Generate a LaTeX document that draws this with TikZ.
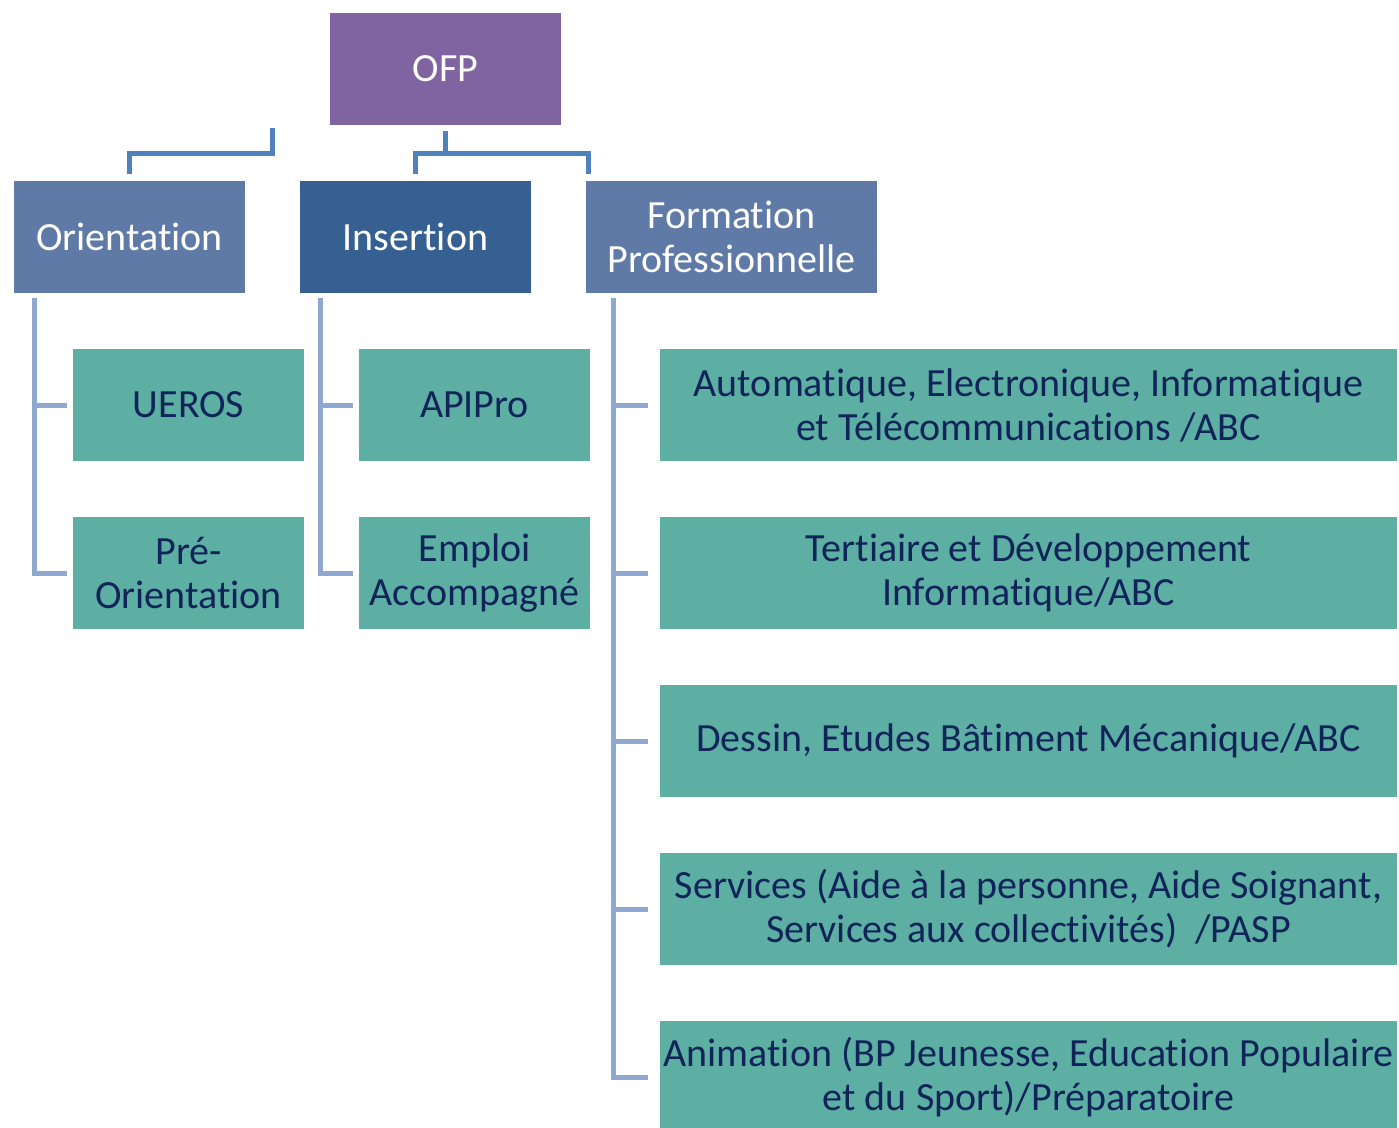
\documentclass[tikz,border=0pt]{standalone}
\usepackage{fontspec}
\setmainfont[Ligatures=NoCommon]{Carlito}
\definecolor{ofpc}{RGB}{128,100,162}
\definecolor{lvl1}{RGB}{96,122,168}
\definecolor{lvl1d}{RGB}{54,96,146}
\definecolor{teal}{RGB}{93,175,164}
\definecolor{navy}{RGB}{16,36,90}
\definecolor{topln}{RGB}{79,129,189}
\definecolor{sideln}{RGB}{143,168,208}
\tikzset{
  box/.style={rectangle, inner sep=0pt, align=center, font=\fontsize{40}{44}\selectfont, minimum height=112pt},
  headbox/.style={box, text=white, minimum width=231pt},
  childbox/.style={box, fill=teal, text=navy, minimum width=231pt},
  widebox/.style={box, fill=teal, text=navy, minimum width=737pt},
  topline/.style={draw=topln, line width=5pt},
  sideline/.style={draw=sideln, line width=5pt},
}
\begin{document}
\begin{tikzpicture}[x=1pt,y=-1pt]
\useasboundingbox (0,0) rectangle (1399,1127);
\node[headbox, fill=ofpc] (ofp) at (445.5,69) {OFP};
\node[headbox, fill=lvl1] (orient) at (129.5,237) {Orientation};
\node[headbox, fill=lvl1d] (ins) at (415.5,237) {Insertion};
\node[headbox, fill=lvl1, minimum width=291pt] (form) at (731.5,237) {Formation\\Professionnelle};
\node[childbox] (ueros) at (188.5,405) {UEROS};
\node[childbox] (preo) at (188.5,573) {Pré-\\Orientation};
\node[childbox] (api) at (474.5,405) {APIPro};
\node[childbox] (emploi) at (474.5,573) {Emploi\\Accompagné};
\node[widebox] (f1) at (1028.5,405) {Automatique, Electronique, Informatique\\et Télécommunications /ABC};
\node[widebox] (f2) at (1028.5,573) {Tertiaire et Développement\\Informatique/ABC};
\node[widebox] (f3) at (1028.5,741) {Dessin, Etudes Bâtiment Mécanique/ABC};
\node[widebox] (f4) at (1028.5,909) {Services (Aide à la personne, Aide Soignant,\\Services aux collectivités)\ \ /PASP};
\node[widebox] (f5) at (1028.5,1077) {Animation (BP Jeunesse, Education Populaire\\et du Sport)/Préparatoire};
% top connectors
\coordinate (oa) at (272,128);
\draw[topline] (oa) -- ++(0,25) -| ([yshift=7pt]orient.north);
\draw[topline] ([yshift=-6pt]ofp.south) -- ++(0,22) coordinate (j);
\draw[topline] ([yshift=7pt]ins.north) |- (j) -| ([xshift=2.5pt,yshift=7pt]form.north west);
% side connectors
\draw[sideline] ([xshift=21pt,yshift=-5pt]orient.south west) |- ([xshift=-6pt]ueros.west);
\draw[sideline] ([xshift=21pt,yshift=-5pt]orient.south west) |- ([xshift=-6pt]preo.west);
\draw[sideline] ([xshift=21pt,yshift=-5pt]ins.south west) |- ([xshift=-6pt]api.west);
\draw[sideline] ([xshift=21pt,yshift=-5pt]ins.south west) |- ([xshift=-6pt]emploi.west);
\foreach \n in {f1,f2,f3,f4,f5}
  \draw[sideline] ([xshift=28pt,yshift=-5pt]form.south west) |- ([xshift=-12pt]\n.west);
\end{tikzpicture}
\end{document}
